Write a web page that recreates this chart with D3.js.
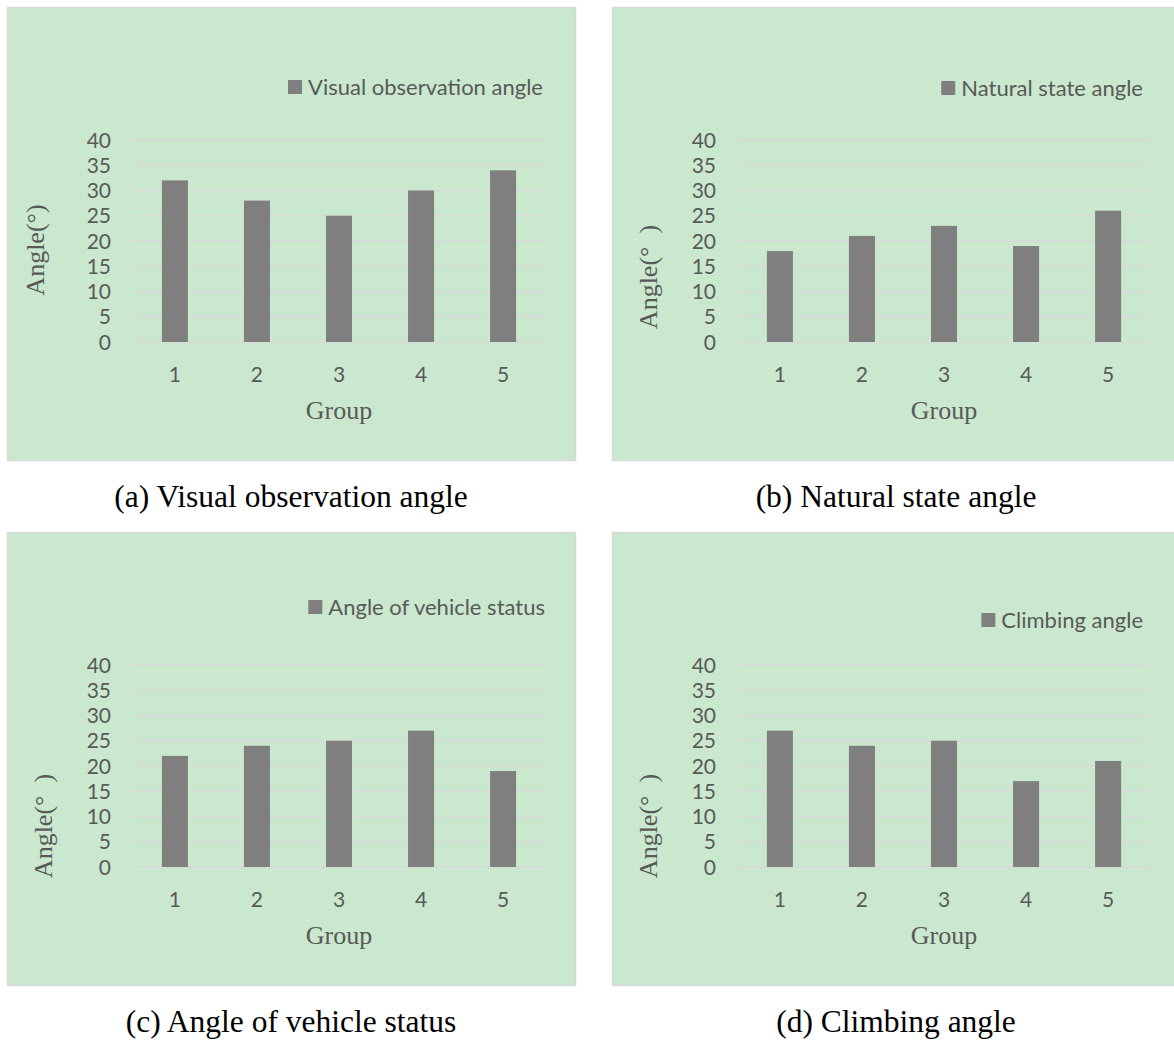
<!DOCTYPE html>
<html>
<head>
<meta charset="utf-8">
<script src="https://cdn.jsdelivr.net/npm/d3@7"></script>
<style>
  body { margin: 0; background: #fff; }
</style>
</head>
<body>
<div id="chart"></div>
<script>
const groups = ["1", "2", "3", "4", "5"];
const yTicks = [0, 5, 10, 15, 20, 25, 30, 35, 40];
const visualAngle = [32, 28, 25, 30, 34];
const naturalAngle = [18, 21, 23, 19, 26];
const vehicleAngle = [22, 24, 25, 27, 19];
const climbingAngle = [27, 24, 25, 17, 21];
const seriesNames = ["Visual observation angle", "Natural state angle", "Angle of vehicle status", "Climbing angle"];
const captions = ["(a) Visual observation angle", "(b) Natural state angle", "(c) Angle of vehicle status", "(d) Climbing angle"];
const yTitles = ["Angle(\u00b0)", "Angle(\u00b0\u2002)", "Angle(\u00b0\u2002)", "Angle(\u00b0\u2002)"];

const W = 1174, H = 1041;
const svg = d3.select("#chart").append("svg")
  .attr("width", W).attr("height", H)
  .style("font-family", "Lato, 'Open Sans', sans-serif");

// panel placement: left, top, width; legend right edge + centre y; y-title centre
const panels = [
  { x: 7,   y: 7,   w: 568, values: visualAngle,   legR: 536,  legY: 80, ytX: 28, ytY: 243 },
  { x: 612, y: 7,   w: 570, values: naturalAngle,  legR: 531,  legY: 81, ytX: 36, ytY: 270 },
  { x: 7,   y: 532, w: 568, values: vehicleAngle,  legR: 538,  legY: 75, ytX: 36, ytY: 294 },
  { x: 612, y: 532, w: 570, values: climbingAngle, legR: 531,  legY: 88, ytX: 36, ytY: 294 }
];
const panelH = 453;
const plotL = 127, plotR = 537, plotT = 133, plotB = 335;
const textGrey = "#595959";

panels.forEach((p, i) => {
  const g = svg.append("g").attr("transform", `translate(${p.x},${p.y})`);

  g.append("rect")
    .attr("x", 0.5).attr("y", 0.5)
    .attr("width", p.w).attr("height", panelH)
    .attr("fill", "#c9e8cd")
    .attr("stroke", "#d9d9d9")
    .attr("stroke-width", 1.5);

  const x = d3.scaleBand().domain(groups).range([plotL, plotR])
    .paddingInner(0.683).paddingOuter(0.34);
  const y = d3.scaleLinear().domain([0, 40]).range([plotB, plotT]);

  // gridlines
  g.selectAll(".grid")
    .data(yTicks)
    .join("line")
    .attr("x1", plotL).attr("x2", plotR)
    .attr("y1", d => y(d)).attr("y2", d => y(d))
    .attr("stroke", "#d9d9d9")
    .attr("stroke-width", 1.5);

  // y tick labels
  g.selectAll(".ytick")
    .data(yTicks)
    .join("text")
    .attr("x", plotL - 23)
    .attr("y", d => y(d))
    .attr("dy", "0.36em")
    .attr("text-anchor", "end")
    .style("font-size", "21px")
    .style("fill", textGrey)
    .text(d => d);

  // bars
  g.selectAll(".bar")
    .data(groups.map((k, j) => [k, p.values[j]]))
    .join("rect")
    .attr("x", d => x(d[0]))
    .attr("y", d => y(d[1]))
    .attr("width", x.bandwidth())
    .attr("height", d => y(0) - y(d[1]))
    .attr("fill", "#7f7f7f");

  // x tick labels
  g.selectAll(".xtick")
    .data(groups)
    .join("text")
    .attr("x", d => x(d) + x.bandwidth() / 2)
    .attr("y", plotB + 32)
    .attr("dy", "0.36em")
    .attr("text-anchor", "middle")
    .style("font-size", "21px")
    .style("fill", textGrey)
    .text(d => d);

  // axis titles
  g.append("text")
    .attr("x", (plotL + plotR) / 2)
    .attr("y", plotB + 77)
    .attr("text-anchor", "middle")
    .style("font-family", "'Liberation Serif', 'Times New Roman', serif")
    .style("font-size", "26px")
    .style("fill", textGrey)
    .text("Group");

  g.append("text")
    .attr("transform", `translate(${p.ytX},${p.ytY}) rotate(-90)`)
    .attr("dy", "0.35em")
    .attr("text-anchor", "middle")
    .style("font-family", "'Liberation Serif', 'Times New Roman', serif")
    .style("font-size", "26px")
    .style("fill", textGrey)
    .text(yTitles[i]);

  // legend
  const leg = g.append("g");
  const legText = leg.append("text")
    .attr("x", p.legR)
    .attr("y", p.legY)
    .attr("dy", "0.36em")
    .attr("text-anchor", "end")
    .style("font-size", "22px")
    .style("fill", textGrey)
    .text(seriesNames[i]);
  const tw = legText.node().getComputedTextLength();
  leg.append("rect")
    .attr("x", p.legR - tw - 20)
    .attr("y", p.legY - 7)
    .attr("width", 14).attr("height", 14)
    .attr("fill", "#7f7f7f");

  // caption below panel
  svg.append("text")
    .attr("x", p.x + 284)
    .attr("y", p.y + panelH + 47)
    .attr("text-anchor", "middle")
    .style("font-family", "'Liberation Serif', 'Times New Roman', serif")
    .style("font-size", "31.5px")
    .style("fill", "#000")
    .text(captions[i]);
});
</script>
</body>
</html>
